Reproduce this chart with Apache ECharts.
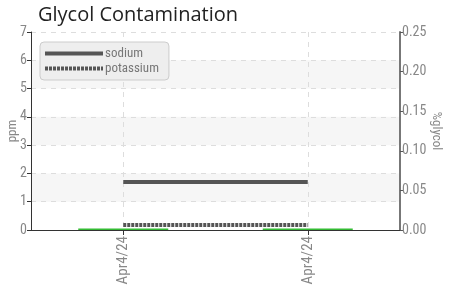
<!DOCTYPE html>
<html>
<head>
<meta charset="utf-8">
<script src="https://cdn.jsdelivr.net/npm/echarts@6/dist/echarts.min.js"></script>
<style>
  html, body { margin: 0; padding: 0; background: #fff; }
  #chart { width: 450px; height: 287px; }
</style>
</head>
<body>
<div id="chart"></div>
<script>
// sample dates and readings
const dates = ['Apr4/24', 'Apr4/24'];
const sodium = [1.7, 1.7];
const potassium = [0.18, 0.18];
const glycol = [0.002, 0.002];

// pad the category axis so the two dates sit at 1/4 and 3/4 of the width
const cats = ['', dates[0], '', dates[1], ''];
function pad(arr) {
  return [null, arr[0], null, arr[1], null];
}
const isDate = function (index, value) { return value !== ''; };

const labelFont = "'Roboto Condensed', 'Liberation Sans Narrow', 'DejaVu Sans Condensed', sans-serif";

const chart = echarts.init(document.getElementById('chart'));
const option = {
  animation: false,
  title: {
    text: 'Glycol Contamination',
    left: 33,
    top: 0,
    textStyle: { fontSize: 20, fontWeight: 'normal', color: '#222', fontFamily: 'Open Sans' }
  },
  legend: {
    data: [
      { name: 'sodium', lineStyle: { width: 4, color: '#555' } },
      { name: 'potassium', lineStyle: { width: 4, color: '#555', type: [3, 1] } }
    ],
    orient: 'vertical',
    left: 40,
    top: 42,
    itemWidth: 58,
    itemHeight: 8,
    itemGap: 2,
    padding: [5, 10, 5, 3],
    backgroundColor: '#eeeeee',
    borderColor: '#cccccc',
    borderWidth: 1,
    borderRadius: 4,
    itemStyle: { opacity: 0 },
    textStyle: { color: '#777', fontSize: 13, fontFamily: labelFont, padding: [0, 0, 0, -3] }
  },
  grid: { left: 31, right: 50, top: 32, bottom: 57, outerBoundsMode: 'none' },
  xAxis: {
    type: 'category',
    boundaryGap: false,
    data: cats,
    axisLine: { lineStyle: { color: '#333', width: 1 } },
    axisTick: { interval: isDate, length: 5, lineStyle: { color: '#333' } },
    axisLabel: { interval: isDate, rotate: 90, color: '#888', fontSize: 15, fontFamily: labelFont, margin: 6 },
    splitLine: { show: true, interval: isDate, lineStyle: { color: '#dddddd', type: [5, 5] } }
  },
  yAxis: [
    {
      type: 'value',
      min: 0, max: 7, interval: 1,
      name: 'ppm',
      nameLocation: 'middle',
      nameRotate: 90,
      nameGap: 12,
      nameMoveOverlap: false,
      nameTextStyle: { color: '#888', fontSize: 13, fontFamily: labelFont },
      axisLine: { show: true, lineStyle: { color: '#333', width: 1 } },
      axisTick: { show: true, length: 4, lineStyle: { color: '#333' } },
      axisLabel: { color: '#888', fontSize: 14, fontFamily: labelFont, margin: 4 },
      splitLine: { show: true, lineStyle: { color: '#dddddd', type: [5, 5] } },
      splitArea: { show: true, areaStyle: { color: ['rgba(255,255,255,0)', '#f6f6f6'] } }
    },
    {
      type: 'value',
      min: 0, max: 0.25, interval: 0.05,
      name: '%glycol',
      nameLocation: 'middle',
      nameRotate: -90,
      nameGap: 30,
      nameMoveOverlap: false,
      nameTextStyle: { color: '#888', fontSize: 13, fontFamily: labelFont },
      axisLine: { show: true, lineStyle: { color: '#777', width: 2 } },
      axisTick: { show: true, length: 4, lineStyle: { color: '#555' } },
      axisLabel: { color: '#888', fontSize: 14, fontFamily: labelFont, margin: 2,
        formatter: function (v) { return v.toFixed(2); } },
      splitLine: { show: false }
    }
  ],
  series: [
    {
      name: 'sodium',
      type: 'line',
      yAxisIndex: 0,
      data: pad(sodium),
      connectNulls: true,
      symbol: 'none',
      lineStyle: { color: '#555', width: 4 },
      itemStyle: { color: '#555' },
      z: 4
    },
    {
      name: 'potassium',
      type: 'line',
      yAxisIndex: 0,
      data: pad(potassium),
      connectNulls: true,
      symbol: 'none',
      lineStyle: { color: '#555', width: 4, type: [3, 1] },
      itemStyle: { color: '#555' },
      z: 4
    },
    {
      name: '%glycol',
      type: 'bar',
      yAxisIndex: 1,
      data: pad(glycol),
      barWidth: 90,
      itemStyle: { color: '#33bb33' },
      z: 3
    }
  ]
};
chart.setOption(option);
</script>
</body>
</html>
